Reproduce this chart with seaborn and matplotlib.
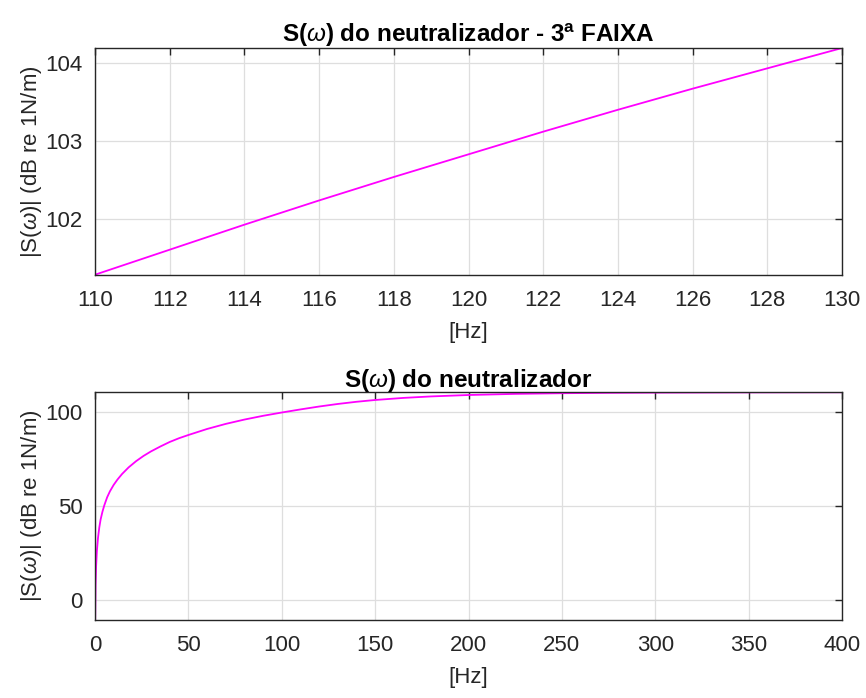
import matplotlib
matplotlib.use("Agg")
import matplotlib.pyplot as plt
import seaborn as sns
import pandas as pd
from matplotlib import font_manager

# ---------------- data ----------------
freq_band = [110, 112, 114, 116, 118, 120, 122, 124, 126, 128, 130]
s_band_db = [101.29, 101.61, 101.93, 102.24, 102.54, 102.83, 103.12, 103.40,
             103.67, 103.93, 104.19]

freq_full = [0.1, 0.3, 0.6, 1.0, 1.6, 2.3, 3.0, 4.0, 5.0, 6.5, 8.0, 10, 12,
             14.5, 18, 22, 26, 30, 35, 40, 45, 50, 60, 70, 80, 90, 100, 110,
             120, 130, 140, 150, 165, 180, 200, 225, 250, 275, 300, 350, 400]
s_full_db = [-10.6, 8.0, 18.0, 26.0, 33.0, 38.6, 42.8, 47.0, 50.4, 54.6, 57.8,
             61.2, 64.0, 67.0, 70.5, 73.8, 76.6, 79.0, 81.6, 84.0, 86.0, 87.7,
             90.9, 93.6, 95.9, 97.9, 99.65, 101.29, 102.83, 104.19, 105.35,
             106.3, 107.4, 108.2, 108.95, 109.55, 109.9, 110.1, 110.22, 110.34,
             110.4]

top_xticks = [110, 112, 114, 116, 118, 120, 122, 124, 126, 128, 130]
top_yticks = [102, 103, 104]
bot_xticks = [0, 50, 100, 150, 200, 250, 300, 350, 400]
bot_yticks = [0, 50, 100]

title_top = r"S($\omega$) do neutralizador - 3$^{\mathbf{a}}$ FAIXA"
title_bot = r"S($\omega$) do neutralizador"
ylabel = r"|S($\omega$)| (dB re 1N/m)"
xlabel = "[Hz]"

# ---------------- style ----------------
sns.set_style("white")
names = {f.name for f in font_manager.fontManager.ttflist}
fam = "Liberation Sans Narrow" if "Liberation Sans Narrow" in names else "Liberation Sans"
plt.rcParams["font.family"] = [fam, "DejaVu Sans"]
plt.rcParams["mathtext.fontset"] = "custom"
plt.rcParams["mathtext.rm"] = fam
plt.rcParams["mathtext.it"] = fam + ":italic"
plt.rcParams["mathtext.bf"] = fam + ":bold"

TXT = "#262626"
GRID = "#dedede"
LINE = "#ff00ff"

fig = plt.figure(figsize=(8.66, 6.98), dpi=100)
ax1 = fig.add_axes([0.1097, 0.606, 0.8626, 0.3252])
ax2 = fig.add_axes([0.1097, 0.1117, 0.8626, 0.3263])

df_top = pd.DataFrame({"f": freq_band, "s": s_band_db})
df_bot = pd.DataFrame({"f": freq_full, "s": s_full_db})

sns.lineplot(data=df_top, x="f", y="s", ax=ax1, color=LINE, linewidth=1.3)
sns.lineplot(data=df_bot, x="f", y="s", ax=ax2, color=LINE, linewidth=1.3)

def style(ax, xt, yt, xlim, ylim, title):
    ax.set_xlim(*xlim)
    ax.set_ylim(*ylim)
    ax.set_xticks(xt)
    ax.set_yticks(yt)
    ax.grid(True, color=GRID, linewidth=0.9)
    ax.set_axisbelow(True)
    for s in ax.spines.values():
        s.set_visible(True)
        s.set_color(TXT)
        s.set_linewidth(1.0)
    ax.tick_params(direction="in", length=5, width=1.0, colors=TXT,
                   labelsize=16, top=True, right=True)
    ax.tick_params(axis="x", pad=11)
    ax.tick_params(axis="y", pad=9)
    ax.set_xlabel(xlabel, fontsize=16, color=TXT, labelpad=8)
    ax.set_ylabel(ylabel, fontsize=16, color=TXT, labelpad=1)
    ax.set_title(title, fontsize=17.5, fontweight="bold", color="black", pad=4)

style(ax1, top_xticks, top_yticks, (110, 130), (101.286, 104.19), title_top)
style(ax2, bot_xticks, bot_yticks, (0, 400), (-10.6, 110.4), title_bot)

fig.savefig("out.png", dpi=100, facecolor="white")
